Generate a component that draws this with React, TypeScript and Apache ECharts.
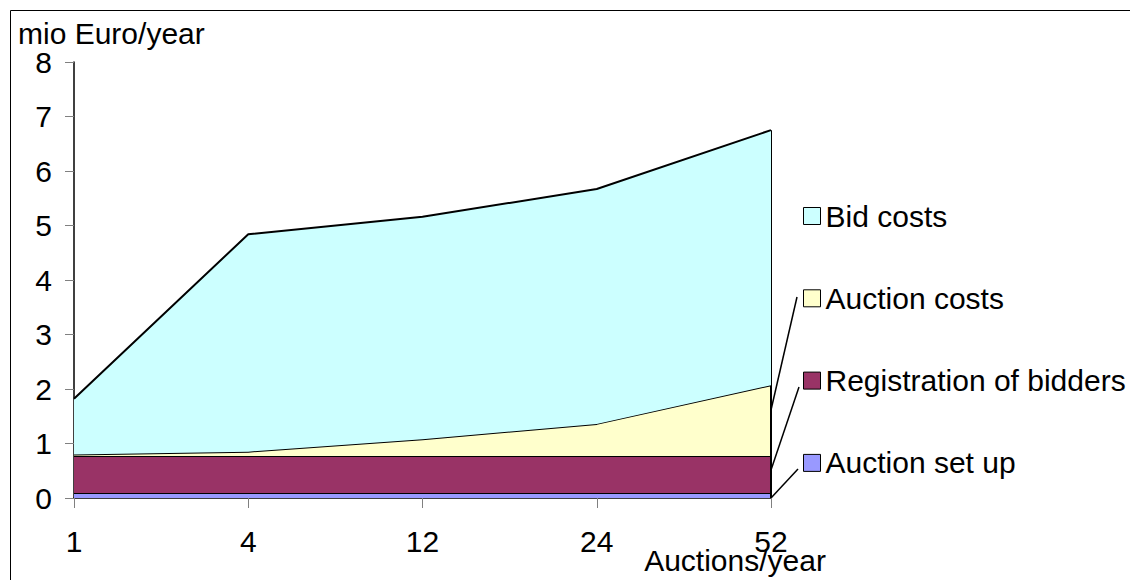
import React, { useEffect, useRef } from "react";
import * as echarts from "echarts";

const categories = ["1", "4", "12", "24", "52"];
const auctionSetUp = [0.09, 0.09, 0.09, 0.09, 0.09];
const registrationOfBidders = [0.68, 0.68, 0.68, 0.68, 0.68];
const auctionCosts = [0.03, 0.08, 0.31, 0.59, 1.3];
const bidCosts = [1.02, 3.99, 4.08, 4.31, 4.68];
const seriesNames = ["Auction set up", "Registration of bidders", "Auction costs", "Bid costs"];
const seriesColors = ["#9999FF", "#993366", "#FFFFCC", "#CCFFFF"];
const yAxisName = "mio Euro/year";
const xAxisName = "Auctions/year";

const FONT = "'Liberation Sans', Arial, sans-serif";
const FS = 30;

export default function App() {
  const ref = useRef<HTMLDivElement>(null);
  useEffect(() => {
    if (!ref.current) return;
    const chart = echarts.init(ref.current, undefined, { renderer: "svg" });
    const values = [auctionSetUp, registrationOfBidders, auctionCosts, bidCosts];
    const last = categories.length - 1;
    const total = values.reduce((s, v) => s + v[last], 0);
    const series: any[] = values.map((v, i) => ({
      name: seriesNames[i],
      type: "line",
      stack: "total",
      data: v,
      symbol: "none",
      lineStyle: { color: "#000", width: 2 },
      itemStyle: { color: seriesColors[i] },
      areaStyle: { color: seriesColors[i], opacity: 1 },
      z: 2 + i,
    }));
    series[0].markLine = {
      silent: true,
      symbol: "none",
      label: { show: false },
      lineStyle: { color: "#000", width: 2, type: "solid" },
      data: [[{ coord: [categories[last], 0] }, { coord: [categories[last], total] }]],
    };
    chart.setOption({
      animation: false,
      grid: { left: 74, right: 359, top: 62, bottom: 82, containLabel: false },
      xAxis: {
        type: "category",
        data: categories,
        boundaryGap: false,
        axisLine: { lineStyle: { color: "#000", width: 1.5 } },
        axisTick: { show: true, length: 10, lineStyle: { color: "#808080" }, alignWithLabel: true },
        axisLabel: { color: "#000", fontSize: FS, fontFamily: FONT, margin: 28 },
        splitLine: { show: false },
      },
      yAxis: {
        type: "value",
        min: 0,
        max: 8,
        interval: 1,
        axisLine: { show: true, lineStyle: { color: "#000", width: 1.5 } },
        axisTick: { show: true, length: 9, lineStyle: { color: "#808080" } },
        axisLabel: { color: "#000", fontSize: FS, fontFamily: FONT, margin: 22 },
        splitLine: { show: false },
      },
      legend: {
        orient: "vertical",
        left: 798,
        top: 196,
        data: [...seriesNames].reverse(),
        icon: "rect",
        itemWidth: 17,
        itemHeight: 17,
        itemGap: 52.3,
        selectedMode: false,
        itemStyle: { borderColor: "#000", borderWidth: 1 },
        textStyle: { color: "#000", fontSize: FS, fontFamily: FONT, padding: [0, 0, 0, 0] },
      },
      graphic: [
        {
          type: "rect",
          silent: true,
          shape: { x: 10.5, y: 10.5, width: 1300, height: 1300 },
          style: { fill: "none", stroke: "#000", lineWidth: 1 },
        },
        {
          type: "text",
          x: 18,
          y: 33,
          style: { text: yAxisName, fontSize: FS, fontFamily: FONT, fill: "#000", align: "left", verticalAlign: "middle" },
        },
        {
          type: "text",
          x: 735,
          y: 560,
          style: { text: xAxisName, fontSize: FS, fontFamily: FONT, fill: "#000", align: "center", verticalAlign: "middle" },
        },
        { type: "line", shape: { x1: 797, y1: 297, x2: 771, y2: 410 }, style: { stroke: "#000", lineWidth: 1.5 } },
        { type: "line", shape: { x1: 799, y1: 387, x2: 771, y2: 470 }, style: { stroke: "#000", lineWidth: 1.5 } },
        { type: "line", shape: { x1: 798, y1: 469, x2: 771, y2: 498 }, style: { stroke: "#000", lineWidth: 1.5 } },
      ],
      series,
    });
    return () => chart.dispose();
  }, []);
  return (
    <div
      ref={ref}
      style={{ position: "absolute", left: 0, top: 0, width: 1130, height: 580, background: "#fff" }}
    />
  );
}
